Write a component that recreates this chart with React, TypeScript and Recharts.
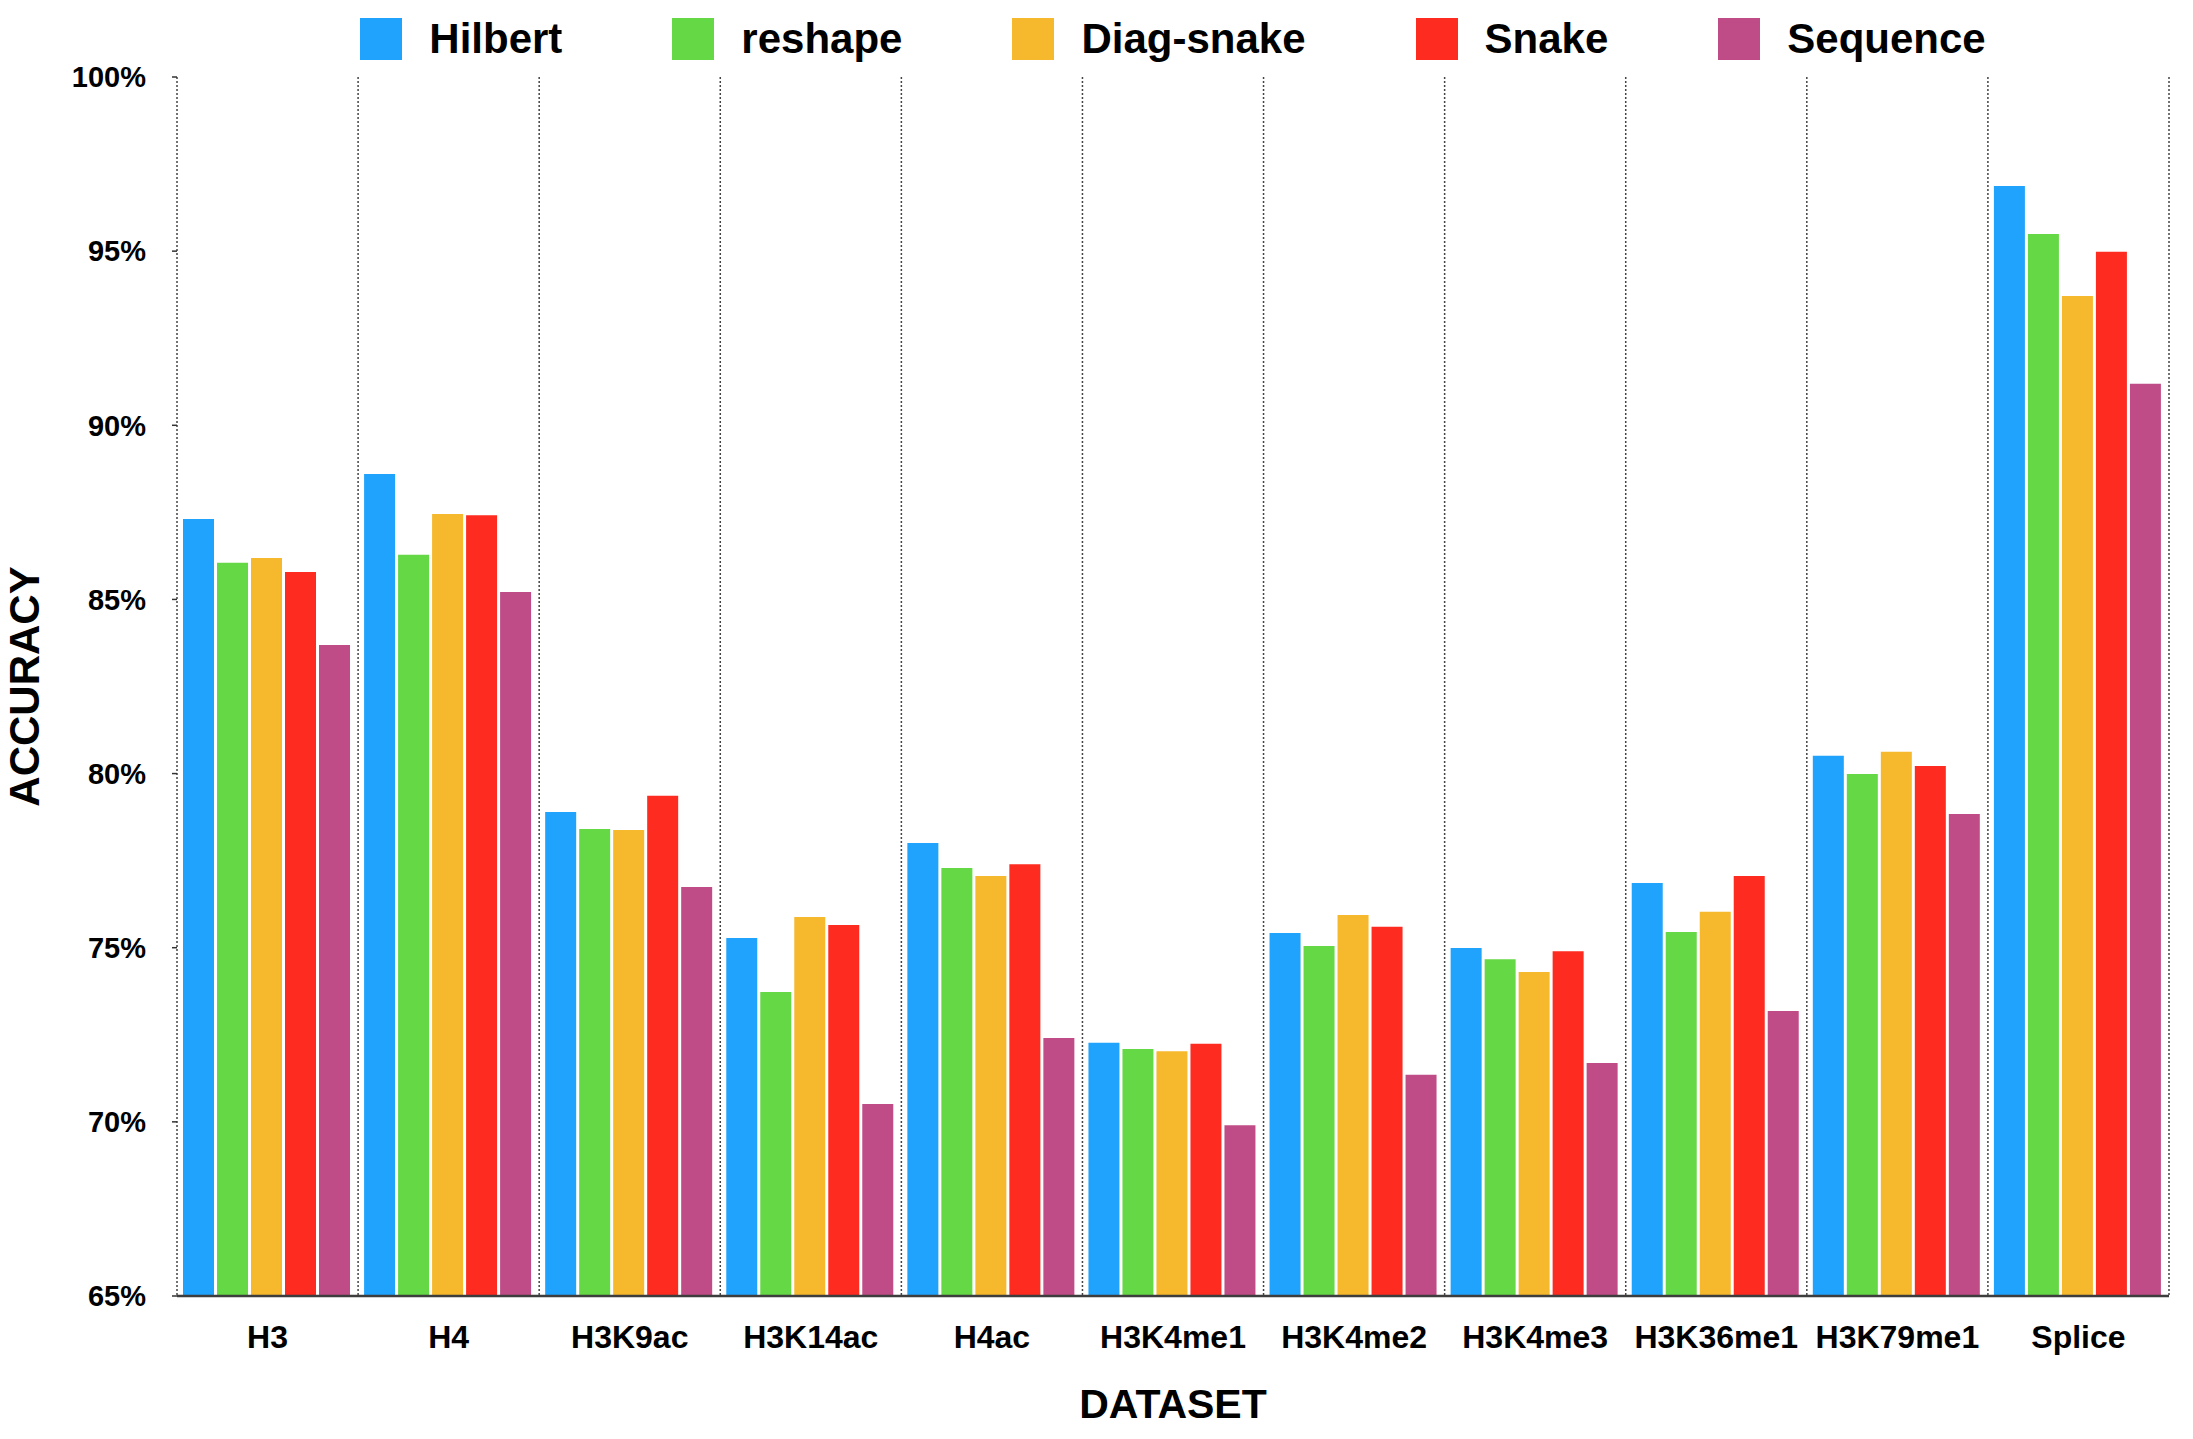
import React from 'react';
import { BarChart, Bar, XAxis, YAxis, CartesianGrid, Legend } from 'recharts';

const categories = ['H3', 'H4', 'H3K9ac', 'H3K14ac', 'H4ac', 'H3K4me1', 'H3K4me2', 'H3K4me3', 'H3K36me1', 'H3K79me1', 'Splice'];
const seriesNames = ['Hilbert', 'reshape', 'Diag-snake', 'Snake', 'Sequence'];
const seriesColors = ['#1fa3fd', '#65d845', '#f6b82d', '#fe2b21', '#c04c87'];

const hilbert = [87.31, 88.6, 78.9, 75.28, 78.01, 72.27, 75.42, 74.99, 76.86, 80.51, 96.87];
const reshape = [86.05, 86.28, 78.41, 73.73, 77.29, 72.09, 75.05, 74.67, 75.45, 79.99, 95.49];
const diagSnake = [86.19, 87.45, 78.38, 75.88, 77.06, 72.03, 75.94, 74.3, 76.03, 80.63, 93.71];
const snake = [85.79, 87.42, 79.36, 75.65, 77.4, 72.24, 75.6, 74.9, 77.06, 80.22, 94.98];
const sequence = [83.69, 85.21, 76.74, 70.51, 72.41, 69.9, 71.35, 71.69, 73.18, 78.84, 91.19];

const yTicks = [65, 70, 75, 80, 85, 90, 95, 100];
const yDomain = [65, 100];

const seriesValues = [hilbert, reshape, diagSnake, snake, sequence];
const seriesKeys = ['hilbert', 'reshape', 'diagSnake', 'snake', 'sequence'];

const data = categories.map((c, i) => {
  const row: Record<string, any> = { name: c };
  seriesKeys.forEach((k, s) => {
    row[k] = seriesValues[s][i];
  });
  return row;
});

const FONT = '"Liberation Sans", Arial, Helvetica, sans-serif';

const CHART_W = 2193;
const CHART_H = 1431;
const MARGIN = { top: 77, right: 24, bottom: 5, left: 0 };
const Y_W = 177;

const LegendContent = () => (
  <div
    style={{
      display: 'flex',
      justifyContent: 'center',
      alignItems: 'center',
      fontFamily: FONT,
      fontWeight: 700,
      fontSize: 42,
      lineHeight: '42px',
      color: '#000',
    }}
  >
    {seriesNames.map((n, i) => (
      <div
        key={n}
        style={{ display: 'flex', alignItems: 'center', marginLeft: i === 0 ? 0 : 110 }}
      >
        <div style={{ width: 42, height: 42, background: seriesColors[i], marginRight: 27 }} />
        <span>{n}</span>
      </div>
    ))}
  </div>
);

const gridGenerator = (props: any) => {
  const { offset } = props;
  const n = categories.length;
  const pts: number[] = [];
  for (let i = 0; i <= n; i++) {
    pts.push(offset.left + (offset.width * i) / n);
  }
  return pts;
};

const YTitle = (props: any) => {
  const vb = props.viewBox || { x: 0, y: 0, width: 0, height: 0 };
  const cx = vb.x + 24;
  const cy = vb.y + vb.height / 2;
  return (
    <text
      x={cx}
      y={cy}
      transform={`rotate(-90 ${cx} ${cy})`}
      textAnchor="middle"
      dominantBaseline="central"
      fontFamily={FONT}
      fontWeight={700}
      fontSize={42}
      fill="#000"
    >
      ACCURACY
    </text>
  );
};

const XTitle = (props: any) => {
  const vb = props.viewBox || { x: 0, y: 0, width: 0, height: 0 };
  return (
    <text
      x={vb.x + vb.width / 2}
      y={vb.y + 122}
      textAnchor="middle"
      fontFamily={FONT}
      fontWeight={700}
      fontSize={41}
      fill="#000"
    >
      DATASET
    </text>
  );
};

export default function App() {
  return (
    <div
      style={{
        width: CHART_W,
        height: CHART_H,
        position: 'relative',
        background: '#fff',
        marginLeft: -8,
        marginTop: -8,
      }}
    >
      <BarChart
        width={CHART_W}
        height={CHART_H}
        data={data}
        margin={MARGIN}
        barCategoryGap={6}
        barGap={3}
      >
        <CartesianGrid
          horizontal={false}
          vertical={true}
          verticalCoordinatesGenerator={gridGenerator}
          stroke="#444"
          strokeWidth={1.5}
          strokeDasharray="2 2"
        />
        <XAxis
          dataKey="name"
          height={130}
          tickSize={0}
          tickMargin={29}
          tickLine={false}
          axisLine={{ stroke: '#3d3d3d', strokeWidth: 2.5 }}
          tick={{ fontSize: 32, fontWeight: 700, fill: '#000', fontFamily: FONT }}
          interval={0}
          label={<XTitle />}
        />
        <YAxis
          width={Y_W}
          domain={yDomain}
          ticks={yTicks}
          type="number"
          allowDataOverflow
          tickFormatter={(v: number) => `${v}%`}
          tickSize={5}
          tickMargin={26}
          axisLine={false}
          tickLine={{ stroke: '#333', strokeWidth: 1.5 }}
          tick={{ fontSize: 29, fontWeight: 700, fill: '#000', fontFamily: FONT }}
          label={<YTitle />}
        />
        <Legend
          layout="horizontal"
          verticalAlign="middle"
          align="center"
          content={<LegendContent />}
          wrapperStyle={{ top: 18, left: MARGIN.left + Y_W, width: CHART_W - MARGIN.left - Y_W - MARGIN.right, height: 42 }}
        />
        {seriesKeys.map((k, i) => (
          <Bar
            key={k}
            dataKey={k}
            name={seriesNames[i]}
            fill={seriesColors[i]}
            isAnimationActive={false}
          />
        ))}
      </BarChart>
    </div>
  );
}
